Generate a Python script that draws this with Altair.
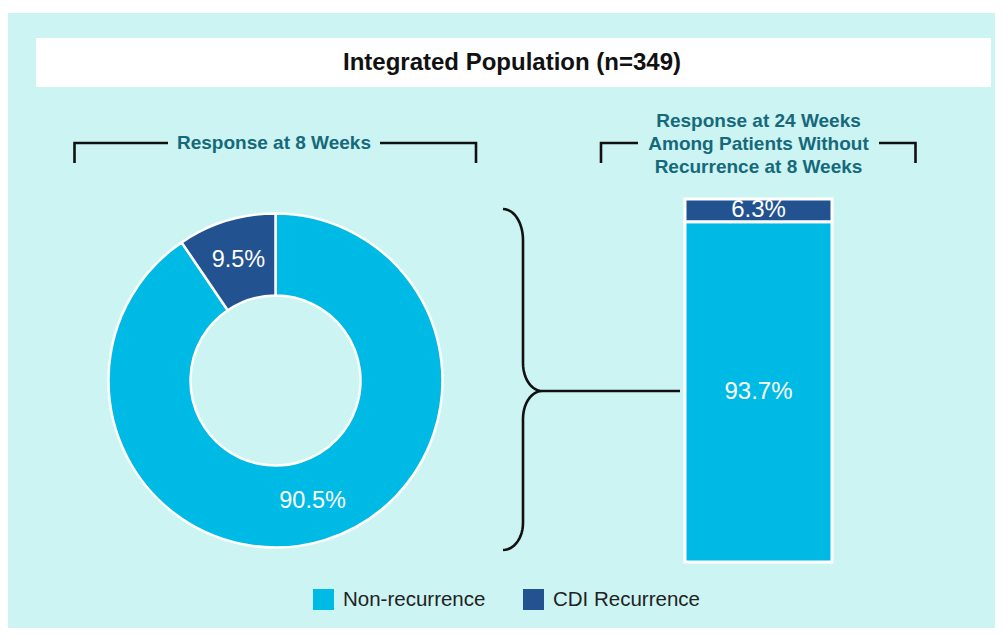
import altair as alt
import pandas as pd
import numpy as np

# ---------------- data ----------------
categories = ["Non-recurrence", "CDI Recurrence"]
week8_pct = [90.5, 9.5]
week8_labels = ["90.5%", "9.5%"]
week24_pct = [93.7, 6.3]
week24_labels = ["93.7%", "6.3%"]
stack_order = [0, 1]

title_text = "Integrated Population (n=349)"
left_heading = "Response at 8 Weeks"
right_heading = ["Response at 24 Weeks", "Among Patients Without", "Recurrence at 8 Weeks"]

# ---------------- style ----------------
colors = ["#00BAE6", "#235291"]
BG = "#CCF4F3"
TEAL = "#16697A"
FONT = "Liberation Sans"
W, H = 987, 615

donut_df = pd.DataFrame({"category": categories, "pct": week8_pct,
                         "label": week8_labels, "order": stack_order})
bar_df = pd.DataFrame({"category": categories, "pct": week24_pct,
                       "label": week24_labels, "order": stack_order})

color = alt.Color(
    "category:N",
    scale=alt.Scale(domain=categories, range=colors),
    legend=alt.Legend(
        title=None, orient="none", legendX=305, legendY=576,
        direction="horizontal", symbolType="square", symbolSize=441,
        symbolStrokeWidth=0, symbolOpacity=1, labelFont=FONT,
        labelFontSize=20.5, labelColor="#222222", labelOffset=9,
        columnPadding=37, padding=0, labelLimit=400,
    ),
)

# pixel-space scales for decorative shapes
xs = alt.Scale(domain=[0, W], range=[0, W], nice=False, zero=False)
ys = alt.Scale(domain=[0, H], range=[0, H], nice=False, zero=False)

one = pd.DataFrame({"a": [0]})

# title box
title_box = alt.Chart(one).mark_rect(color="white").encode(
    x=alt.value(28), x2=alt.value(983), y=alt.value(25), y2=alt.value(74))
title = alt.Chart(one).mark_text(
    text=title_text, font=FONT, fontSize=24, fontWeight="bold", color="#111111",
    baseline="middle", align="center").encode(x=alt.value(504), y=alt.value(50))

# headings
lh = alt.Chart(one).mark_text(
    text=left_heading, font=FONT, fontSize=19, fontWeight="bold", color=TEAL,
    baseline="middle", align="center").encode(x=alt.value(266), y=alt.value(129.5))
rh = alt.Chart(one).mark_text(
    text=right_heading, font=FONT, fontSize=19, fontWeight="bold", color=TEAL,
    baseline="middle", align="center", lineHeight=23).encode(
    x=alt.value(750.5), y=alt.value(108))

# bracket lines
seg_rows = []
def add_seg(name, pts):
    for i, (px, py) in enumerate(pts):
        seg_rows.append({"seg": name, "i": i, "px": px, "py": py})

add_seg("l1", [(66.5, 150), (66.5, 130), (160, 130)])
add_seg("l2", [(372, 130), (468, 130), (468, 150)])
add_seg("r1", [(593, 150), (593, 130), (630, 130)])
add_seg("r2", [(871, 130), (907.5, 130), (907.5, 150)])

# curly brace
def quarter(cx, cy, rx, ry, a0, a1, n=14):
    a = np.radians(np.linspace(a0, a1, n))
    return list(zip(cx + rx * np.cos(a), cy + ry * np.sin(a)))

brace = []
brace += quarter(495, 227, 20, 31, -90, 0)
brace += quarter(534, 350, 19, 28, 180, 90)
brace += quarter(534, 406, 19, 28, 270, 180)
brace += quarter(495, 510, 20, 27, 0, 90)
add_seg("brace", brace)
add_seg("link", [(534, 378), (672, 378)])

seg_df = pd.DataFrame(seg_rows)
lines = alt.Chart(seg_df).mark_line(color="#111111", strokeWidth=2.6).encode(
    x=alt.X("px:Q", scale=xs, axis=None),
    y=alt.Y("py:Q", scale=ys, axis=None),
    detail="seg:N", order="i:Q")

# donut
CX, CY = 267.5, 367.5
donut = alt.Chart(donut_df).mark_arc(
    outerRadius=167, innerRadius=85, stroke="white", strokeWidth=2.5).encode(
    theta=alt.Theta("pct:Q", stack=True), color=color,
    order=alt.Order("order:Q"), x=alt.value(CX), y=alt.value(CY))
donut_text = alt.Chart(donut_df).mark_text(
    radius=126, font=FONT, fontSize=23.5, color="white", baseline="middle").encode(
    theta=alt.Theta("pct:Q", stack=True), order=alt.Order("order:Q"),
    text="label:N", x=alt.value(CX), y=alt.value(CY))

# stacked bar (explicit cumulative stacking)
bys = alt.Scale(domain=[0, 100], range=[549, 186], nice=False, zero=False)
bar_base = alt.Chart(bar_df).transform_window(
    cum="sum(pct)", sort=[alt.SortField("order")], frame=[None, 0]
).transform_calculate(
    start="datum.cum - datum.pct",
    mid="datum.cum - datum.pct / 2",
)
bar = bar_base.mark_rect(stroke="white", strokeWidth=3).encode(
    x=alt.value(677), x2=alt.value(824),
    y=alt.Y("start:Q", scale=bys, axis=None),
    y2="cum:Q",
    color=color)
bar_text = bar_base.mark_text(font=FONT, fontSize=24, color="white",
                              baseline="middle").encode(
    x=alt.value(750.5),
    y=alt.Y("mid:Q", scale=bys, axis=None),
    text="label:N")

chart = alt.layer(
    title_box, title, lh, rh, lines, donut, donut_text, bar, bar_text
).resolve_scale(
    x="independent", y="independent"
).properties(
    width=W, height=H, background="white",
    padding={"left": 0, "top": 5, "right": 0, "bottom": 0},
    autosize=alt.AutoSizeParams(type="none"),
).configure_view(fill=BG, stroke=None)

chart.save("out.html", embed_options={"renderer": "svg", "actions": False})
